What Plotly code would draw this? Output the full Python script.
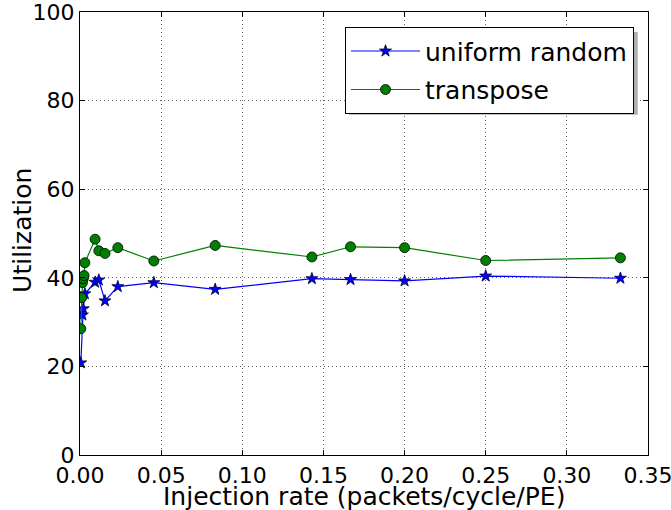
import plotly.graph_objects as go

uniform_x = [0.0005, 0.0015, 0.002, 0.003, 0.0093, 0.0116, 0.0154, 0.0233, 0.0455,
             0.0833, 0.1429, 0.1667, 0.2, 0.25, 0.333]
uniform_y = [20.8, 31.6, 33.0, 36.4, 39.0, 39.5, 34.8, 38.0, 38.9,
             37.4, 39.8, 39.6, 39.3, 40.4, 39.9]

transpose_x = [0.0005, 0.001, 0.0015, 0.002, 0.0025, 0.003, 0.0093, 0.0116, 0.0154,
               0.0233, 0.0455, 0.0833, 0.1429, 0.1667, 0.2, 0.25, 0.333]
transpose_y = [28.5, 35.5, 38.9, 39.8, 40.5, 43.4, 48.7, 46.1, 45.5,
               46.8, 43.8, 47.3, 44.7, 47.0, 46.8, 43.9, 44.5]

x_ticks = [0.0, 0.05, 0.10, 0.15, 0.20, 0.25, 0.30, 0.35]
y_ticks = [0, 20, 40, 60, 80, 100]

x_title = "Injection rate (packets/cycle/PE)"
y_title = "Utilization"

FONT = "DejaVu Sans"

fig = go.Figure()
fig.add_trace(go.Scatter(
    x=uniform_x, y=uniform_y, mode="lines+markers", name="uniform random",
    legendgroup="a",
    line=dict(color="#0000ff", width=1.2),
    marker=dict(symbol="star", size=9, color="#0000ff", line=dict(color="#000033", width=0.8)),
))
fig.add_trace(go.Scatter(
    x=transpose_x, y=transpose_y, mode="lines+markers", name="transpose",
    legendgroup="b",
    line=dict(color="#008000", width=1.2),
    marker=dict(symbol="circle", size=10, color="#008000", line=dict(color="#000000", width=0.8)),
))

axis_common = dict(
    showline=True, linecolor="black", linewidth=1.2, mirror="allticks",
    ticks="inside", ticklen=5, tickcolor="black",
    showgrid=True, gridcolor="#666666", griddash="1px,3px", gridwidth=1,
    zeroline=False, automargin=False, ticklabeloverflow="allow",
    tickfont=dict(family=FONT, size=22, color="black"),
)

fig.update_xaxes(range=[0, 0.35], tickvals=x_ticks, tickformat=".2f", **axis_common)
fig.update_yaxes(range=[0, 100], tickvals=y_ticks, **axis_common)

# axis titles
fig.add_annotation(text=x_title, xref="paper", yref="paper", x=0.5, y=-0.0564,
                   xanchor="center", yanchor="top", showarrow=False,
                   font=dict(family=FONT, size=25, color="black"))
fig.add_annotation(text=y_title, xref="paper", yref="paper", x=-0.1303, y=0.507,
                   xanchor="left", yanchor="middle", textangle=-90, showarrow=False,
                   font=dict(family=FONT, size=25, color="black"))

# legend shadow
fig.add_shape(type="rect", xref="paper", yref="paper",
              x0=0.474, x1=0.982, y0=0.768, y1=0.955,
              fillcolor="#b0b0b0", line=dict(width=0), layer="above")

fig.update_layout(
    width=671, height=510,
    margin=dict(l=80, r=23, t=12, b=55, autoexpand=False),
    paper_bgcolor="white", plot_bgcolor="white",
    font=dict(family=FONT, size=22, color="black"),
    showlegend=True,
    legend=dict(x=0.975, y=0.966, xanchor="right", yanchor="top",
                bgcolor="white", bordercolor="black", borderwidth=1.2,
                font=dict(family=FONT, size=25, color="black"),
                itemwidth=69, tracegroupgap=3),
)

fig.write_html("out.html")
